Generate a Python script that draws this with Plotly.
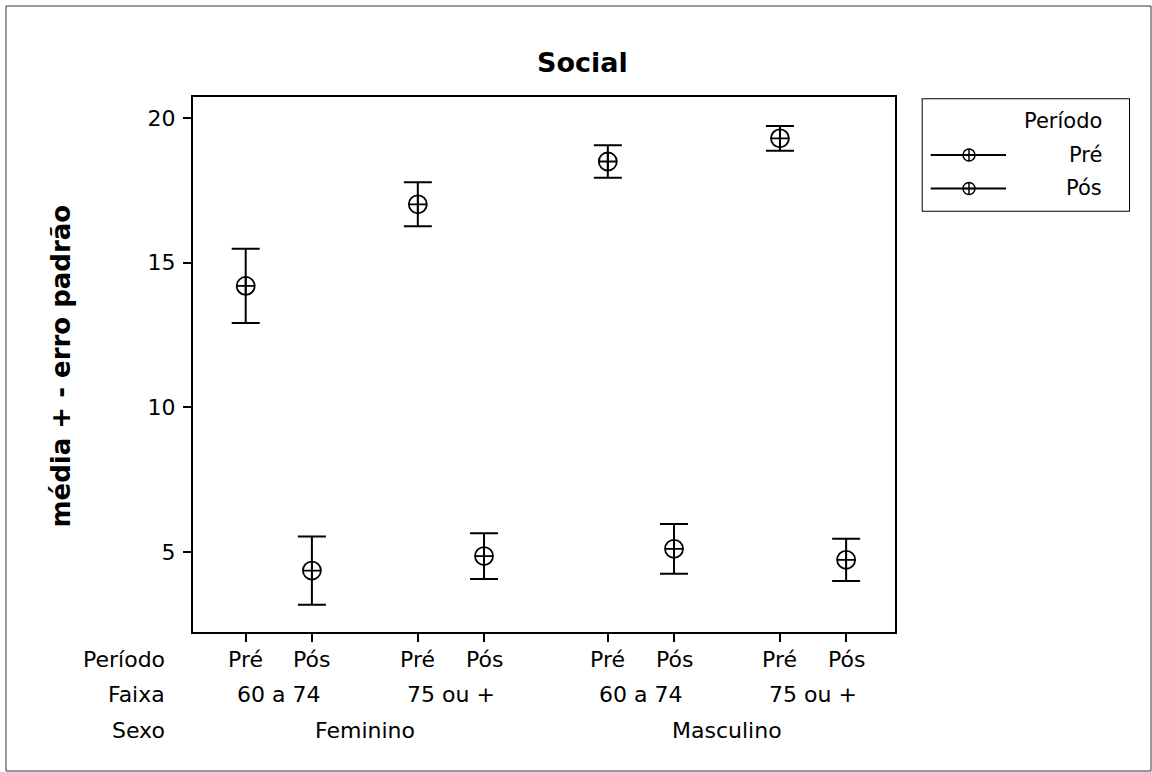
import plotly.graph_objects as go

# ---- data -------------------------------------------------------------
sexo = ["Feminino", "Masculino"]
faixa = ["60 a 74", "75 ou +"]
periodo = ["Pré", "Pós"]
row_labels = ["Período", "Faixa", "Sexo"]

# mean and standard error per cell, ordered
# Feminino/60 a 74, Feminino/75 ou +, Masculino/60 a 74, Masculino/75 ou +
media_pre = [14.20, 17.02, 18.50, 19.30]
erro_pre = [1.28, 0.76, 0.56, 0.43]
media_pos = [4.36, 4.86, 5.11, 4.73]
erro_pos = [1.18, 0.79, 0.86, 0.73]

y_ticks = [5, 10, 15, 20]

# ---- figure geometry (pixels) ----------------------------------------
W, H = 1152, 772
ML, MR, MT, MB = 193, 10, 97, 140
PLOT_RIGHT = 895          # right edge of the main panel
PW = W - ML - MR
PH = H - MT - MB


def px(xp):
    return (xp - ML) / PW


def py(yp):
    return (H - MB - yp) / PH


# x layout of the nested categories
PAIR_STEP, FAIXA_STEP, SEXO_STEP = 1.0, 2.6, 5.47


def pos(s, f, p):
    return s * SEXO_STEP + f * FAIXA_STEP + p * PAIR_STEP


cells = [(s, f) for s in range(len(sexo)) for f in range(len(faixa))]
x_pre = [pos(s, f, 0) for s, f in cells]
x_pos = [pos(s, f, 1) for s, f in cells]

FONT = "DejaVu Sans"
BLACK = "#000000"

fig = go.Figure()

for xs, ys, es, name in [(x_pre, media_pre, erro_pre, periodo[0]),
                         (x_pos, media_pos, erro_pos, periodo[1])]:
    fig.add_trace(go.Scatter(
        x=xs, y=ys, mode="markers", name=name, showlegend=False,
        marker=dict(symbol="circle-cross-open", size=18, color=BLACK,
                    line=dict(width=1.8, color=BLACK)),
        error_y=dict(type="data", array=es, visible=True, color=BLACK,
                     thickness=2, width=14),
        xaxis="x", yaxis="y",
    ))

# ---- legend panel drawn on its own small axes (pixel units) ----------
LEG_L, LEG_R, LEG_T, LEG_B = 921.7, 1130, 98.3, 211.7
leg_rows = [155, 188.5]
fig.add_trace(go.Scatter(
    x=[969, 969], y=leg_rows, mode="markers", showlegend=False,
    marker=dict(symbol="circle-cross-open", size=12, color=BLACK,
                line=dict(width=1.5, color=BLACK)),
    xaxis="x2", yaxis="y2", hoverinfo="skip",
))

shapes = []
for yr in leg_rows:
    shapes.append(dict(type="line", xref="x2", yref="y2", x0=930.7, x1=1006,
                       y0=yr, y1=yr, line=dict(color=BLACK, width=2)))
shapes.append(dict(type="rect", xref="x2", yref="y2", x0=LEG_L, x1=LEG_R,
                   y0=LEG_T, y1=LEG_B, line=dict(color=BLACK, width=2)))
# outer frame around the whole graphic
shapes.append(dict(type="rect", xref="paper", yref="paper",
                   x0=px(6), x1=px(1151), y0=py(771), y1=py(6),
                   line=dict(color="#333333", width=1)))

annotations = []
leg_text = [("Período", 121), (periodo[0], leg_rows[0]), (periodo[1], leg_rows[1])]
for txt, yr in leg_text:
    annotations.append(dict(text=txt, xref="x2", yref="y2", x=1104, y=yr,
                            xanchor="right", yanchor="middle", showarrow=False,
                            font=dict(family=FONT, size=21, color=BLACK)))

# nested category labels below the x axis
ROW_Y = [659, 694, 730]
for s, f in cells:
    for p in range(len(periodo)):
        annotations.append(dict(text=periodo[p], xref="x", yref="paper",
                                x=pos(s, f, p), y=py(ROW_Y[0]),
                                xanchor="center", yanchor="middle", showarrow=False,
                                font=dict(family=FONT, size=22, color=BLACK)))
    annotations.append(dict(text=faixa[f], xref="x", yref="paper",
                            x=(pos(s, f, 0) + pos(s, f, 1)) / 2, y=py(ROW_Y[1]),
                            xanchor="center", yanchor="middle", showarrow=False,
                            font=dict(family=FONT, size=22, color=BLACK)))
for s in range(len(sexo)):
    annotations.append(dict(text=sexo[s], xref="x", yref="paper",
                            x=(pos(s, 0, 0) + pos(s, len(faixa) - 1, 1)) / 2,
                            y=py(ROW_Y[2]), xanchor="center", yanchor="middle",
                            showarrow=False,
                            font=dict(family=FONT, size=22, color=BLACK)))
for lbl, yr in zip(row_labels, ROW_Y):
    annotations.append(dict(text=lbl, xref="paper", yref="paper",
                            x=px(167), y=py(yr), xanchor="right", yanchor="middle",
                            showarrow=False,
                            font=dict(family=FONT, size=22, color=BLACK)))

# title and y-axis title
annotations.append(dict(text="<b>Social</b>", xref="paper", yref="paper",
                        x=px(582), y=py(62), xanchor="center", yanchor="middle",
                        showarrow=False, font=dict(family=FONT, size=27, color=BLACK)))
annotations.append(dict(text="<b>média + - erro padrão</b>", xref="paper", yref="paper",
                        x=px(60), y=py(366.5), xanchor="center", yanchor="middle",
                        textangle=-90, showarrow=False,
                        font=dict(family=FONT, size=26, color=BLACK)))

x_lo = -0.796
x_hi = x_lo + (PLOT_RIGHT - ML) / 66.2

fig.update_layout(
    width=W, height=H,
    margin=dict(l=ML, r=MR, t=MT, b=MB, pad=0),
    paper_bgcolor="white", plot_bgcolor="white",
    font=dict(family=FONT, size=22, color=BLACK),
    xaxis=dict(domain=[0, px(PLOT_RIGHT)], range=[x_lo, x_hi],
               tickvals=x_pre + x_pos, showticklabels=False,
               ticks="outside", ticklen=8, tickwidth=2, tickcolor=BLACK,
               showline=True, linecolor=BLACK, linewidth=2, mirror=True,
               showgrid=False, zeroline=False, fixedrange=True),
    yaxis=dict(domain=[0, 1], range=[2.235, 20.73], tickvals=y_ticks,
               ticks="outside", ticklen=8, tickwidth=2, tickcolor=BLACK,
               tickfont=dict(family=FONT, size=22, color=BLACK),
               ticklabelstandoff=3,
               showline=True, linecolor=BLACK, linewidth=2, mirror=True,
               showgrid=False, zeroline=False, fixedrange=True),
    xaxis2=dict(domain=[px(LEG_L), px(LEG_R)], range=[LEG_L, LEG_R],
                visible=False, fixedrange=True, anchor="y2"),
    yaxis2=dict(domain=[py(LEG_B), py(LEG_T)], range=[LEG_B, LEG_T],
                visible=False, fixedrange=True, anchor="x2"),
    shapes=shapes,
    annotations=annotations,
    showlegend=False,
)

fig.write_html("out.html")
